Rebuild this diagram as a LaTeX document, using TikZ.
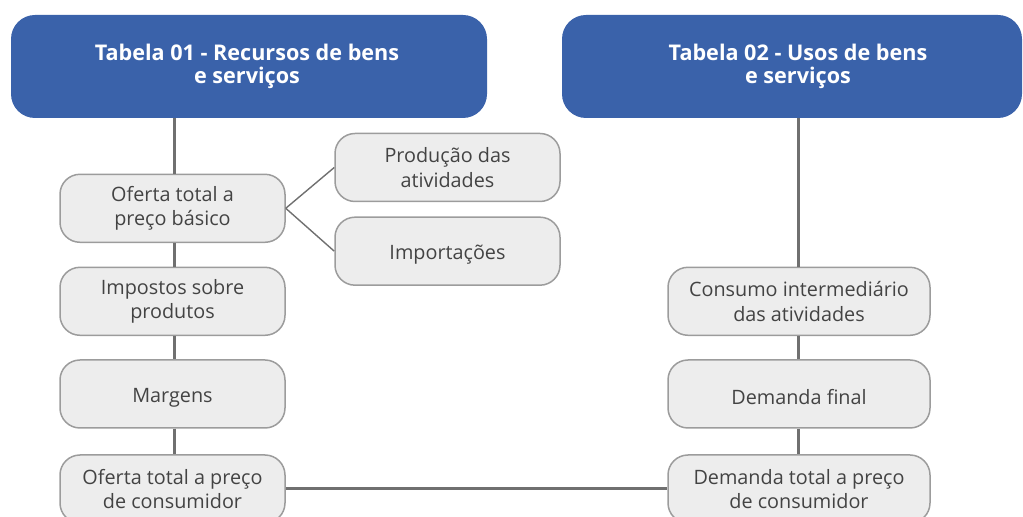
\documentclass[tikz,border=0pt]{standalone}
\usepackage{fontspec}
\setmainfont{Open Sans}
\definecolor{hblue}{HTML}{3A62AA}
\definecolor{boxfill}{HTML}{EDEDED}
\definecolor{boxline}{HTML}{9C9C9C}
\definecolor{lgray}{HTML}{707070}
\definecolor{txt}{HTML}{434343}
\begin{document}
\begin{tikzpicture}[x=0.5pt,y=-0.5pt,
  hdr/.style={draw=none, fill=hblue, rounded corners=12pt, inner sep=0pt},
  hdrtext/.style={text=white, font=\bfseries\fontsize{10.8}{11.6}\selectfont, align=center, inner sep=0pt},
  box/.style={draw=boxline, line width=0.75pt, fill=boxfill, rounded corners=10pt, text=txt,
    font=\fontsize{9.9}{12.3}\selectfont, align=center, inner sep=0pt,
    execute at begin node={\rule{0pt}{10.6pt}}},
  lbox/.style={box, minimum width=112.5pt, minimum height=34pt},
  rbox/.style={box, minimum width=131pt, minimum height=34pt},
  conn/.style={draw=lgray, line width=1.5pt},
  fan/.style={draw=lgray, line width=0.7pt}]
\useasboundingbox (0,0) rectangle (1023,517);
\clip (0,0) rectangle (1023,517);
% headers
\node[hdr, minimum width=238pt, minimum height=51.5pt] (h1) at (249,66.5) {};
\node[hdrtext] (h1t) at (247,66) {Tabela 01 - Recursos de bens\\e serviços};
\node[hdr, minimum width=230pt, minimum height=51.5pt] (h2) at (792,66.5) {};
\node[hdrtext] (h2t) at (798,66) {Tabela 02 - Usos de bens\\e serviços};
% left column
\node[lbox] (otb) at (172.5,208.3) {Oferta total a\\preço básico};
\node[lbox] (imp) at (172.5,301.3) {Impostos sobre\\produtos};
\node[lbox] (mar) at (172.5,394) {Margens};
\node[lbox] (otc) at (172.5,489) {Oferta total a preço\\de consumidor};
% middle column
\node[lbox] (prod) at (447.5,167.5) {Produção das\\atividades};
\node[lbox] (impo) at (447.5,251.2) {Importações};
% right column
\node[rbox] (cons) at (799,301.3) {Consumo intermediário\\das atividades};
\node[rbox] (dem) at (799,394) {Demanda final};
\node[rbox] (dtc) at (799,489) {Demanda total a preço\\de consumidor};
% connectors
\draw[conn] (h1.south -| 174,0) -- (otb.north -| 174,0);
\draw[conn] (otb.south -| 174,0) -- (imp.north -| 174,0);
\draw[conn] (imp.south -| 174,0) -- (mar.north -| 174,0);
\draw[conn] (mar.south -| 174,0) -- (otc.north -| 174,0);
\draw[conn] (h2.south -| 798,0) -- (cons.north -| 798,0);
\draw[conn] (cons.south -| 798,0) -- (dem.north -| 798,0);
\draw[conn] (dem.south -| 798,0) -- (dtc.north -| 798,0);
\draw[conn] (otc.east) -- (dtc.west);
\draw[fan] (otb.east) -- (prod.west);
\draw[fan] (otb.east) -- (impo.west);
\end{tikzpicture}
\end{document}
